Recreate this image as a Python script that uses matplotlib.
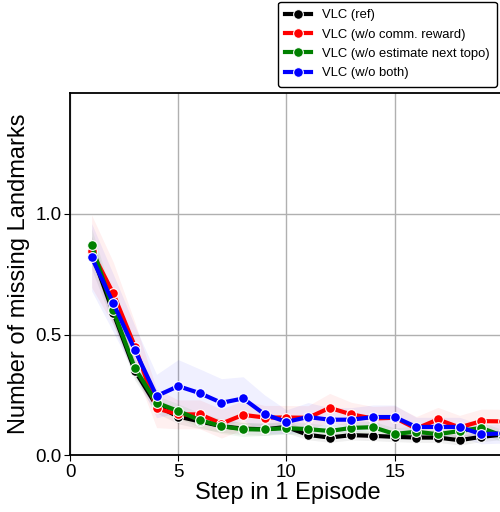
import numpy as np
import matplotlib
matplotlib.use("Agg")
from matplotlib import pyplot as plt

plt.rcParams['font.family'] = ['Liberation Sans', 'DejaVu Sans']

steps = list(range(1, 21))
labels = ['VLC (ref)', 'VLC (w/o comm. reward)', 'VLC (w/o estimate next topo)', 'VLC (w/o both)']
colors = ['black', 'red', 'green', 'blue']

ref = [0.84, 0.59, 0.35, 0.205, 0.16, 0.14, 0.12, 0.11, 0.107, 0.117,
       0.084, 0.073, 0.083, 0.080, 0.076, 0.073, 0.073, 0.062, 0.076, 0.085]
no_comm = [0.845, 0.67, 0.45, 0.194, 0.169, 0.169, 0.131, 0.167, 0.156, 0.156,
           0.155, 0.196, 0.169, 0.152, 0.155, 0.11, 0.148, 0.115, 0.141, 0.14]
no_topo = [0.87, 0.60, 0.36, 0.217, 0.183, 0.145, 0.12, 0.107, 0.107, 0.112,
           0.108, 0.10, 0.113, 0.116, 0.088, 0.097, 0.087, 0.10, 0.113, 0.08]
no_both = [0.82, 0.63, 0.435, 0.245, 0.286, 0.257, 0.217, 0.235, 0.169, 0.138,
           0.158, 0.147, 0.147, 0.158, 0.158, 0.117, 0.117, 0.117, 0.087, 0.09]

# half width of the shaded confidence band
ref_ci = [0.07, 0.05, 0.04, 0.03, 0.03, 0.03, 0.025, 0.025, 0.025, 0.025,
          0.02, 0.02, 0.02, 0.02, 0.02, 0.02, 0.02, 0.02, 0.02, 0.02]
no_comm_ci = [0.15, 0.13, 0.10, 0.08, 0.06, 0.06, 0.06, 0.06, 0.05, 0.05,
              0.05, 0.06, 0.05, 0.05, 0.05, 0.05, 0.05, 0.05, 0.05, 0.05]
no_topo_ci = [0.07, 0.05, 0.04, 0.03, 0.03, 0.03, 0.03, 0.03, 0.025, 0.025,
              0.025, 0.025, 0.025, 0.025, 0.025, 0.025, 0.025, 0.025, 0.025, 0.025]
no_both_ci = [0.14, 0.12, 0.10, 0.09, 0.11, 0.10, 0.10, 0.09, 0.08, 0.05,
              0.06, 0.05, 0.05, 0.05, 0.05, 0.04, 0.04, 0.04, 0.04, 0.04]

means = [ref, no_comm, no_topo, no_both]
cis = [ref_ci, no_comm_ci, no_topo_ci, no_both_ci]

fig = plt.figure(figsize=(5, 5.12), dpi=100)
# the axes runs a little past the right edge of the figure, as in the original
ax = fig.add_axes([0.14, 0.111, 0.87, 0.707])

for m, c, col, lab in zip(means, cis, colors, labels):
    m = np.array(m)
    c = np.array(c)
    ax.fill_between(steps, m - c, m + c, color=col, alpha=0.06, lw=0)
    ax.plot(steps, m, color=col, lw=3, marker='o', markersize=7,
            markeredgecolor='white', markeredgewidth=0.8, label=lab)

ax.set_xlim(0, 20.1)
ax.set_ylim(0, 1.5)
ax.set_xticks([0, 5, 10, 15])
ax.set_yticks([0.0, 0.5, 1.0])
ax.grid(True, color='#b0b0b0', lw=1)
ax.set_axisbelow(True)
ax.tick_params(labelsize=13.5, direction='out', length=4, color='black', pad=2)
for s in ax.spines.values():
    s.set_color('black')
    s.set_linewidth(1.3)
ax.set_xlabel('Step in 1 Episode', fontsize=17, labelpad=1)
ax.set_ylabel('Number of missing Landmarks', fontsize=17, labelpad=4)

leg = fig.legend(loc='upper right', bbox_to_anchor=(0.996, 0.999), fontsize=9.4,
                 frameon=True, edgecolor='black', framealpha=1, handlelength=2,
                 borderpad=0.55, labelspacing=0.56, borderaxespad=0.1)
leg.get_frame().set_linewidth(1.0)

fig.savefig('out.png', dpi=100)
